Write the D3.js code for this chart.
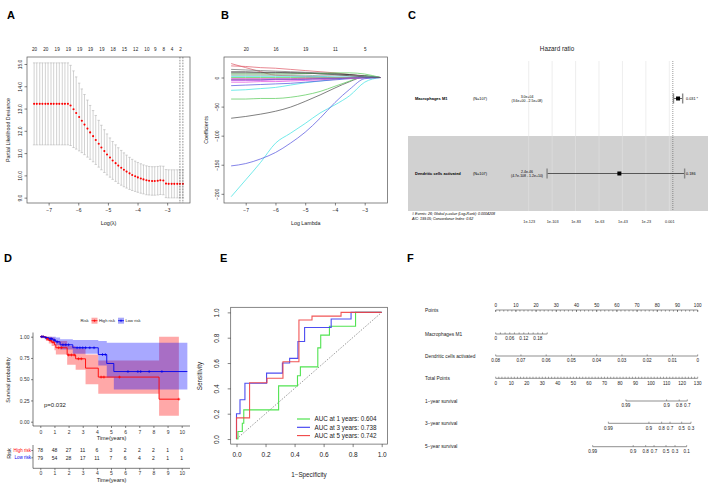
<!DOCTYPE html>
<html>
<head>
<meta charset="utf-8">
<script src="https://cdn.jsdelivr.net/npm/d3@7"></script>
<style>
body { margin: 0; background: #fff; }
svg { display: block; }
</style>
</head>
<body>
<script>
const W = 708, H = 488;
const FONT = '"Liberation Sans", Arial, Helvetica, sans-serif';

// ---------- A : cross-validated partial likelihood deviance
const cvLogLambda = [-7.49,-7.40,-7.30,-7.21,-7.11,-7.02,-6.92,-6.83,-6.73,-6.64,-6.54,-6.45,-6.35,-6.26,-6.16,-6.07,-5.97,-5.88,-5.79,-5.69,-5.60,-5.50,-5.41,-5.31,-5.22,-5.12,-5.03,-4.93,-4.84,-4.74,-4.65,-4.55,-4.46,-4.37,-4.27,-4.18,-4.08,-3.99,-3.89,-3.80,-3.70,-3.61,-3.51,-3.42,-3.32,-3.23,-3.13,-3.04,-2.95,-2.85,-2.76,-2.66,-2.57,-2.47];
const cvMean = [13.21,13.21,13.21,13.21,13.21,13.21,13.21,13.21,13.21,13.21,13.21,13.21,13.21,13.14,12.97,12.80,12.62,12.45,12.28,12.10,11.93,11.76,11.59,11.42,11.25,11.09,10.94,10.80,10.67,10.55,10.44,10.34,10.25,10.17,10.09,10.02,9.96,9.91,9.86,9.82,9.78,9.76,9.75,9.75,9.76,9.78,9.77,9.63,9.62,9.62,9.62,9.62,9.62,9.62];
const cvSd = [1.84,1.84,1.84,1.84,1.84,1.84,1.84,1.84,1.84,1.84,1.84,1.84,1.84,1.80,1.72,1.62,1.52,1.43,1.35,1.28,1.21,1.15,1.10,1.05,1.00,0.96,0.92,0.88,0.85,0.82,0.80,0.78,0.76,0.74,0.72,0.70,0.68,0.67,0.66,0.65,0.65,0.64,0.64,0.64,0.64,0.64,0.64,0.63,0.63,0.63,0.63,0.63,0.63,0.63];
const cvTopAt = [-7.49,-7.11,-6.73,-6.35,-5.97,-5.60,-5.22,-4.84,-4.46,-4.08,-3.70,-3.42,-3.13,-2.85,-2.57];
const cvTopDf = ["20","20","19","19","19","19","19","18","15","12","10","9","8","4","2"];
const cvLambdaLines = [-2.57, -2.47];
const cvYTicks = [9,10,11,12,13,14,15];
const lambdaTicks = [-7,-6,-5,-4,-3];

// ---------- B : coefficient paths
const coefKnots = [-7.49,-7.0,-6.5,-6.0,-5.5,-5.0,-4.5,-4.0,-3.5,-3.0,-2.47];
const coefPaths = [
  [-205,-176,-146,-113,-96,-79,-61,-47,-31,-8,0],
  [-152,-148,-140,-129,-113,-94,-70,-43,-20,-2,0],
  [-70,-67,-63,-58,-51,-41,-30,-18,-7,1,0],
  [-37,-37,-36,-36,-34,-30,-24,-15,-6,3,0],
  [-22,-21,-19,-17,-13,-9,-6,-3,-1,0,0],
  [-14,-13,-12,-11,-10,-8,-6,-4,-2,-1,0],
  [-8,-8,-7,-7,-6,-5,-4,-2,-1,0,0],
  [-5,-5,-5,-4,-4,-3,-2,-2,-1,0,0],
  [24,17,10,4,3,2,1,0,0,0,0],
  [20,19,17,16,14,12,10,8,5,2,0],
  [14,13,12,11,10,9,8,7,5,2,0],
  [8,8,8,8,8,7,7,6,5,3,0],
  [6,6,6,6,6,7,7,8,8,6,0],
  [4,4,4,4,4,4,3,3,3,2,0],
  [2,2,2,2,2,2,2,1,1,1,0],
  [0,0,0,0,0,0,0,0,0,0,0],
  [-2,-2,-2,-2,-2,-1,-1,-1,-1,0,0],
  [-3,-3,-3,-3,-3,-2,-2,-2,-1,0,0],
  [-4,-4,-4,-3,-3,-3,-2,-2,-1,0,0],
  [10,10,9,9,8,8,6,5,3,1,0]
];
const coefColors = ["#45e3e3","#5b5be0","#555555","#5fcc5f","#45e3e3","#5b5be0","#e050e0","#e050e0","#e0606e","#e0606e","#777777","#333333","#5fcc5f","#999999","#45e3e3","#5fcc5f","#e050e0","#e0606e","#5b5be0","#555555"];
const coefTopDf = ["20","16","19","11","5"];
const coefYTicks = [0,-50,-100,-150,-200];

// ---------- C : forest plot
const hrVars = ["Macrophages M1", "Dendritic cells activated"];
const hrN = ["(N=107)", "(N=107)"];
const hrEst = [3.0e4, 2.4e-46];
const hrLo = [3.6, 4.7e-108];
const hrHi = [2.5e8, 1.2e10];
const hrEstText = ["3.0e+04", "2.4e-46"];
const hrCiText = ["(3.6e+00 - 2.5e+08)", "(4.7e-108 - 1.2e+10)"];
const hrP = ["0.031 *", "0.186"];
const hrTicks = [1e-123,1e-103,1e-83,1e-63,1e-43,1e-23,1e-3];
const hrTickLabels = ["1e-123","1e-103","1e-83","1e-63","1e-43","1e-23","0.001"];
const hrNotes = ["# Events: 26; Global p-value (Log-Rank): 0.0004208", "AIC: 199.05; Concordance Index: 0.62"];

// ---------- D : Kaplan-Meier
const kmHighT = [0,0.4,0.6,0.8,1.0,1.1,1.9,2.5,3.2,4.1,8.4,9.8];
const kmHighS = [1,0.975,0.955,0.935,0.905,0.87,0.785,0.74,0.63,0.525,0.265,0.265];
const kmHighUp = [1,1,1,0.99,0.97,0.95,0.89,0.86,0.79,0.72,1,1];
const kmHighLo = [1,0.95,0.92,0.89,0.84,0.79,0.67,0.61,0.44,0.33,0.07,0.07];
const kmHighCens = [0.1,0.2,0.5,0.7,0.9,1.3,1.5,2.0,2.2,2.4,2.7,2.9,4.3,4.5,5.6,9.8];
const kmLowT = [0,0.3,0.6,0.9,1.1,1.4,2.3,4.1,4.7,5.2,10.4];
const kmLowS = [1,0.99,0.975,0.96,0.94,0.905,0.87,0.79,0.685,0.59,0.59];
const kmLowUp = [1,1,1,1,0.99,0.97,0.96,0.95,0.93,0.93,0.93];
const kmLowLo = [1,0.97,0.95,0.93,0.90,0.85,0.80,0.66,0.52,0.38,0.38];
const kmLowCens = [0.1,0.2,0.4,0.7,0.8,1.0,1.2,1.6,1.8,2.0,2.6,2.8,3.0,3.2,3.5,3.8,4.4,4.6,6.2,6.9,7.1,7.7,8.6];
const kmTimeTicks = [0,1,2,3,4,5,6,7,8,9,10];
const kmSurvTicks = [0,0.25,0.5,0.75,1];
const riskHigh = [78,48,27,11,6,3,2,2,2,1,0];
const riskLow = [79,54,28,17,11,7,6,4,2,1,1];

// ---------- E : time-dependent ROC
const roc1Fpr = [0,0.01,0.01,0.04,0.04,0.05,0.05,0.29,0.29,0.42,0.42,0.44,0.44,0.56,0.56,0.58,0.58,0.64,0.64,0.82,0.82,1];
const roc1Tpr = [0,0,0.06,0.06,0.125,0.125,0.23,0.23,0.42,0.42,0.5,0.5,0.57,0.57,0.72,0.72,0.82,0.82,0.89,0.89,1,1];
const roc3Fpr = [0,0,0.024,0.024,0.058,0.058,0.207,0.207,0.316,0.316,0.366,0.366,0.423,0.423,0.469,0.469,0.652,0.652,0.789,0.789,1];
const roc3Tpr = [0,0.2,0.2,0.31,0.31,0.44,0.44,0.52,0.52,0.60,0.60,0.637,0.637,0.77,0.77,0.88,0.88,0.948,0.948,1,1];
const roc5Fpr = [0,0,0.09,0.09,0.21,0.21,0.32,0.32,0.43,0.43,0.52,0.52,0.72,0.72,1];
const roc5Tpr = [0,0.167,0.167,0.444,0.444,0.48,0.48,0.61,0.61,0.94,0.94,0.97,0.97,1,1];
const rocLegend = ["AUC at 1 years: 0.604", "AUC at 3 years: 0.738", "AUC at 5 years: 0.742"];
const rocColors = ["#3ee03e", "#3a3af0", "#f04444"];
const rocTicks = [0,0.2,0.4,0.6,0.8,1.0];

// ---------- F : nomogram
const nomRows = ["Points","Macrophages M1","Dendritic cells activated","Total Points","1\u2212year survival","3\u2212year survival","5\u2212year survival"];
const nomPointsTicks = [0,10,20,30,40,50,60,70,80,90,100];
const nomM1Ticks = [0,0.06,0.12,0.18];
const nomM1Max = 0.22, nomM1MaxPts = 25.5;
const nomDcTicks = [0.08,0.07,0.06,0.05,0.04,0.03,0.02,0.01,0];
const nomTotalTicks = [0,10,20,30,40,50,60,70,80,90,100,110,120,130];
const surv1Labels = ["0.99","0.9","0.8","0.7"];
const surv1Pts = [83.8,110,118.1,123.3];
const surv3Labels = ["0.99","0.9","0.8","0.7","0.5","0.3"];
const surv3Pts = [72.5,98.6,106.8,112.2,119.7,125.7];
const surv5Labels = ["0.99","0.9","0.8","0.7","0.5","0.3","0.1"];
const surv5Pts = [62.4,88.5,96.5,101.9,109.6,115.4,122.9];

// ================= drawing
const svg = d3.select("body").append("svg")
  .attr("width", W).attr("height", H)
  .attr("font-family", FONT);
svg.append("rect").attr("width", W).attr("height", H).attr("fill", "#fff");

const minus = s => String(s).replace("-", "\u2212");

function styleAxis(g, fs, col) {
  g.attr("font-size", fs).attr("font-family", FONT);
  g.selectAll("line").attr("stroke", col || "#333").attr("stroke-width", 0.6);
  g.selectAll("path.domain").remove();
  g.selectAll("text").attr("fill", col || "#222");
}
function rotLeft(g, off) {
  g.selectAll(".tick text")
    .attr("x", 0).attr("dy", 0)
    .attr("text-anchor", "middle")
    .attr("transform", `translate(${-off},0) rotate(-90)`);
}
function letter(x, y, s) {
  svg.append("text").attr("x", x).attr("y", y).text(s)
    .attr("font-size", 11).attr("font-weight", "bold").attr("fill", "#000");
}

// ---------- Panel A
(function () {
  const g = svg.append("g");
  const x = d3.scaleLinear().domain([-7.73, -2.23]).range([27, 190]);
  const y = d3.scaleLinear().domain([8.76, 15.314]).range([203, 57]);

  const bars = g.append("g").attr("stroke", "#b4b4b4").attr("stroke-width", 0.6);
  cvLogLambda.forEach((l, i) => {
    const up = cvMean[i] + cvSd[i], lo = cvMean[i] - cvSd[i];
    bars.append("line").attr("x1", x(l)).attr("x2", x(l)).attr("y1", y(up)).attr("y2", y(lo));
    bars.append("line").attr("x1", x(l) - 1.2).attr("x2", x(l) + 1.2).attr("y1", y(up)).attr("y2", y(up));
    bars.append("line").attr("x1", x(l) - 1.2).attr("x2", x(l) + 1.2).attr("y1", y(lo)).attr("y2", y(lo));
  });
  g.append("g").selectAll("circle").data(cvLogLambda).join("circle")
    .attr("cx", d => x(d)).attr("cy", (d, i) => y(cvMean[i]))
    .attr("r", 1.05).attr("fill", "#f00");
  g.selectAll(".vl").data(cvLambdaLines).join("line")
    .attr("x1", d => x(d)).attr("x2", d => x(d)).attr("y1", 57).attr("y2", 203)
    .attr("stroke", "#444").attr("stroke-width", 0.6).attr("stroke-dasharray", "1.6,1.2");
  g.append("rect").attr("x", 27).attr("y", 57).attr("width", 163).attr("height", 146)
    .attr("fill", "none").attr("stroke", "#555").attr("stroke-width", 0.7);

  const ax = g.append("g").attr("transform", "translate(0,203)")
    .call(d3.axisBottom(x).tickValues(lambdaTicks).tickSize(2.5).tickPadding(3).tickFormat(minus));
  styleAxis(ax, 5);
  const ay = g.append("g").attr("transform", "translate(27,0)")
    .call(d3.axisLeft(y).tickValues(cvYTicks).tickSize(2.5));
  styleAxis(ay, 5); rotLeft(ay, 5);
  const at = g.append("g").attr("transform", "translate(0,57)")
    .call(d3.axisTop(x).tickValues(cvTopAt).tickSize(0).tickPadding(6).tickFormat((d, i) => cvTopDf[i]));
  styleAxis(at, 4.6);

  g.append("text").attr("x", 108.5).attr("y", 225).attr("text-anchor", "middle")
    .attr("font-size", 5.5).attr("fill", "#222").text("Log(\u03bb)");
  g.append("text").attr("transform", "translate(10,130) rotate(-90)").attr("text-anchor", "middle")
    .attr("font-size", 5.3).attr("fill", "#222").text("Partial Likelihood Deviance");
  letter(7, 18.5, "A");
})();

// ---------- Panel B
(function () {
  const g = svg.append("g");
  const x = d3.scaleLinear().domain([-7.73, -2.23]).range([224, 387.6]);
  const y = d3.scaleLinear().domain([-215.8, 35.3]).range([203, 57]);
  const line = d3.line().x((d, i) => x(coefKnots[i])).y(d => y(d)).curve(d3.curveMonotoneX);
  g.append("g").selectAll("path").data(coefPaths).join("path")
    .attr("d", line).attr("fill", "none")
    .attr("stroke", (d, i) => coefColors[i]).attr("stroke-width", 0.75);
  g.append("rect").attr("x", 224).attr("y", 57).attr("width", 163.6).attr("height", 146)
    .attr("fill", "none").attr("stroke", "#555").attr("stroke-width", 0.7);

  const ax = g.append("g").attr("transform", "translate(0,203)")
    .call(d3.axisBottom(x).tickValues(lambdaTicks).tickSize(2.5).tickPadding(3).tickFormat(minus));
  styleAxis(ax, 5);
  const ay = g.append("g").attr("transform", "translate(224,0)")
    .call(d3.axisLeft(y).tickValues(coefYTicks).tickSize(2.5).tickFormat(minus));
  styleAxis(ay, 5); rotLeft(ay, 5);
  const at = g.append("g").attr("transform", "translate(0,57)")
    .call(d3.axisTop(x).tickValues(lambdaTicks).tickSize(0).tickPadding(6).tickFormat((d, i) => coefTopDf[i]));
  styleAxis(at, 4.6);

  g.append("text").attr("x", 305.8).attr("y", 225).attr("text-anchor", "middle")
    .attr("font-size", 5.3).attr("fill", "#222").text("Log Lambda");
  g.append("text").attr("transform", "translate(208,130) rotate(-90)").attr("text-anchor", "middle")
    .attr("font-size", 5.3).attr("fill", "#222").text("Coefficients");
  letter(221, 18.5, "B");
})();

// ---------- Panel C
(function () {
  const g = svg.append("g");
  const x = d3.scaleLog().domain([1e-123, 1e-3]).range([528.7, 669.3]);
  const rowTop = [61, 136], rowH = 75;
  g.append("rect").attr("x", 408).attr("y", rowTop[1]).attr("width", 300).attr("height", rowH).attr("fill", "#d1d1d1");
  g.selectAll(".grid").data(hrTicks).join("line")
    .attr("x1", d => x(d)).attr("x2", d => x(d)).attr("y1", 61).attr("y2", 211)
    .attr("stroke", "#e2e2e2").attr("stroke-width", 0.6);
  g.append("line").attr("x1", x(1)).attr("x2", x(1)).attr("y1", 61).attr("y2", 211)
    .attr("stroke", "#555").attr("stroke-width", 0.6).attr("stroke-dasharray", "1,1");

  hrVars.forEach((v, i) => {
    const cy = rowTop[i] + rowH / 2;
    g.append("text").attr("x", 415).attr("y", cy + 1.3).attr("font-size", 4).attr("font-weight", "bold").text(v);
    g.append("text").attr("x", 480).attr("y", cy + 1.3).attr("font-size", 3.8).attr("text-anchor", "middle").text(hrN[i]);
    g.append("text").attr("x", 527).attr("y", cy - 0.6).attr("font-size", 3.5).attr("text-anchor", "middle").text(hrEstText[i]);
    g.append("text").attr("x", 527).attr("y", cy + 3).attr("font-size", 3.5).attr("text-anchor", "middle").text(hrCiText[i]);
    g.append("text").attr("x", 686).attr("y", cy + 1.3).attr("font-size", 3.8).text(hrP[i]);
    g.append("line").attr("x1", x(hrLo[i])).attr("x2", x(hrHi[i])).attr("y1", cy).attr("y2", cy)
      .attr("stroke", "#222").attr("stroke-width", 0.7);
    [hrLo[i], hrHi[i]].forEach(v2 => {
      g.append("rect").attr("x", x(v2) - 0.7).attr("y", cy - 5).attr("width", 1.4).attr("height", 10).attr("fill", "#888");
    });
    g.append("rect").attr("x", x(hrEst[i]) - 2).attr("y", cy - 2).attr("width", 4).attr("height", 4).attr("fill", "#000");
  });

  const ax = g.append("g").attr("transform", "translate(0,211)")
    .call(d3.axisBottom(x).tickValues(hrTicks).tickSize(0).tickPadding(9).tickFormat((d, i) => hrTickLabels[i]));
  styleAxis(ax, 3.8);
  g.append("text").attr("x", 557).attr("y", 50.5).attr("text-anchor", "middle").attr("font-size", 6.3).attr("fill", "#222").text("Hazard ratio");
  hrNotes.forEach((s, i) => {
    g.append("text").attr("x", 412).attr("y", 214.5 + i * 5.3).attr("font-size", 3.6).attr("font-style", "italic").text(s);
  });
  letter(408, 18.5, "C");
})();

// ---------- Panel D
(function () {
  const g = svg.append("g");
  const x = d3.scaleLinear().domain([0, 10]).range([40.3, 181.7]);
  const y = d3.scaleLinear().domain([0, 1]).range([421.7, 336.7]);
  const area = (T, Up, Lo) => d3.area().curve(d3.curveStepAfter)
    .x((d, i) => x(T[i])).y0((d, i) => y(Lo[i])).y1((d, i) => y(Up[i]))(T);
  const step = (T, S) => d3.line().curve(d3.curveStepAfter).x((d, i) => x(T[i])).y((d, i) => y(S[i]))(T);
  const survAt = (T, S, t) => { let s = 1; T.forEach((tt, i) => { if (tt <= t) s = S[i]; }); return s; };

  g.append("path").attr("d", area(kmHighT, kmHighUp, kmHighLo)).attr("fill", "#ff0000").attr("fill-opacity", 0.34);
  g.append("path").attr("d", area(kmLowT, kmLowUp, kmLowLo)).attr("fill", "#0000ff").attr("fill-opacity", 0.34);
  g.append("path").attr("d", step(kmHighT, kmHighS)).attr("fill", "none").attr("stroke", "#f00").attr("stroke-width", 0.9);
  g.append("path").attr("d", step(kmLowT, kmLowS)).attr("fill", "none").attr("stroke", "#0000ee").attr("stroke-width", 0.9);
  const cross = (list, T, S, col) => list.forEach(t => {
    const cx = x(t), cy = y(survAt(T, S, t));
    g.append("path").attr("d", `M${cx - 1.4},${cy}H${cx + 1.4}M${cx},${cy - 1.4}V${cy + 1.4}`)
      .attr("stroke", col).attr("stroke-width", 0.7);
  });
  cross(kmHighCens, kmHighT, kmHighS, "#f00");
  cross(kmLowCens, kmLowT, kmLowS, "#0000ee");

  // axes
  g.append("line").attr("x1", 33).attr("x2", 190).attr("y1", 426).attr("y2", 426).attr("stroke", "#222").attr("stroke-width", 0.6);
  g.append("line").attr("x1", 33).attr("x2", 33).attr("y1", 332.5).attr("y2", 426).attr("stroke", "#222").attr("stroke-width", 0.6);
  const ax = g.append("g").attr("transform", "translate(0,426)")
    .call(d3.axisBottom(x).tickValues(kmTimeTicks).tickSize(2).tickPadding(2));
  styleAxis(ax, 5, "#333");
  const ay = g.append("g").attr("transform", "translate(33,0)")
    .call(d3.axisLeft(y).tickValues(kmSurvTicks).tickSize(2).tickPadding(1.5).tickFormat(d3.format(".2f")));
  styleAxis(ay, 5, "#333");
  g.append("text").attr("x", 111.5).attr("y", 440).attr("text-anchor", "middle").attr("font-size", 5.6).attr("fill", "#222").text("Time(years)");
  g.append("text").attr("transform", "translate(10,380) rotate(-90)").attr("text-anchor", "middle").attr("font-size", 5.4).attr("fill", "#222").text("Survival probability");
  g.append("text").attr("x", 44).attr("y", 406.5).attr("font-size", 6).attr("fill", "#222").text("p=0.032");

  // legend
  g.append("text").attr("x", 80.5).attr("y", 322.3).attr("font-size", 4.2).attr("fill", "#222").text("Risk");
  [["High risk", "#ff0000", 91.5], ["Low risk", "#0000ee", 118]].forEach(([lab, col, lx]) => {
    g.append("rect").attr("x", lx).attr("y", 317.7).attr("width", 6).attr("height", 6).attr("fill", col).attr("fill-opacity", 0.34);
    g.append("line").attr("x1", lx).attr("x2", lx + 6).attr("y1", 320.7).attr("y2", 320.7).attr("stroke", col).attr("stroke-width", 0.8);
    g.append("path").attr("d", `M${lx + 1.8},320.7H${lx + 4.2}M${lx + 3},319.5V321.9`).attr("stroke", col).attr("stroke-width", 0.6);
    g.append("text").attr("x", lx + 7.5).attr("y", 322.2).attr("font-size", 4.1).attr("fill", "#222").text(lab);
  });

  // risk table
  const rows = [[riskHigh, "High risk", "#ff0000", 450.5], [riskLow, "Low risk", "#0000ee", 457.8]];
  rows.forEach(([vals, lab, col, ry]) => {
    g.selectAll(null).data(vals).join("text")
      .attr("x", (d, i) => x(kmTimeTicks[i])).attr("y", ry + 1.8).attr("text-anchor", "middle")
      .attr("font-size", 5).attr("fill", "#222").text(d => d);
    g.append("text").attr("x", 31).attr("y", ry + 1.6).attr("text-anchor", "end").attr("font-size", 4.5).attr("fill", col).text(lab);
    g.append("line").attr("x1", 31.3).attr("x2", 33).attr("y1", ry).attr("y2", ry).attr("stroke", "#333").attr("stroke-width", 0.6);
  });
  g.append("line").attr("x1", 33).attr("x2", 33).attr("y1", 445).attr("y2", 468.3).attr("stroke", "#222").attr("stroke-width", 0.6);
  g.append("line").attr("x1", 33).attr("x2", 190).attr("y1", 468.3).attr("y2", 468.3).attr("stroke", "#222").attr("stroke-width", 0.6);
  const ar = g.append("g").attr("transform", "translate(0,468.3)")
    .call(d3.axisBottom(x).tickValues(kmTimeTicks).tickSize(2).tickPadding(1.5));
  styleAxis(ar, 5, "#333");
  g.append("text").attr("x", 111.5).attr("y", 482).attr("text-anchor", "middle").attr("font-size", 5.6).attr("fill", "#222").text("Time(years)");
  g.append("text").attr("transform", "translate(10.5,453.5) rotate(-90)").attr("text-anchor", "middle").attr("font-size", 5.4).attr("fill", "#222").text("Risk");
  letter(4, 262, "D");
})();

// ---------- Panel E
(function () {
  const g = svg.append("g");
  const x = d3.scaleLinear().domain([-0.04, 1.04]).range([230.7, 387.5]);
  const y = d3.scaleLinear().domain([-0.04, 1.04]).range([444.1, 307.3]);
  g.append("line").attr("x1", x(0)).attr("y1", y(0)).attr("x2", x(1)).attr("y2", y(1))
    .attr("stroke", "#555").attr("stroke-width", 0.6).attr("stroke-dasharray", "1.5,1.5");
  const line = (F, T) => d3.line().x((d, i) => x(F[i])).y((d, i) => y(T[i]))(F);
  [[roc1Fpr, roc1Tpr], [roc3Fpr, roc3Tpr], [roc5Fpr, roc5Tpr]].forEach(([F, T], k) => {
    g.append("path").attr("d", line(F, T)).attr("fill", "none")
      .attr("stroke", rocColors[k]).attr("stroke-width", 1.1).attr("stroke-opacity", 0.9);
  });
  g.append("rect").attr("x", 230.7).attr("y", 307.3).attr("width", 156.8).attr("height", 136.8)
    .attr("fill", "none").attr("stroke", "#555").attr("stroke-width", 0.7);
  const ax = g.append("g").attr("transform", "translate(0,444.1)")
    .call(d3.axisBottom(x).tickValues(rocTicks).tickSize(3).tickPadding(5).tickFormat(d3.format(".1f")));
  styleAxis(ax, 6.5);
  const ay = g.append("g").attr("transform", "translate(230.7,0)")
    .call(d3.axisLeft(y).tickValues(rocTicks).tickSize(3).tickFormat(d3.format(".1f")));
  styleAxis(ay, 6.5); rotLeft(ay, 11.5);
  rocLegend.forEach((s, i) => {
    const ly = 419 + i * 8.3;
    g.append("line").attr("x1", 297).attr("x2", 310).attr("y1", ly).attr("y2", ly)
      .attr("stroke", rocColors[i]).attr("stroke-width", 1.1);
    g.append("text").attr("x", 314.5).attr("y", ly + 2.3).attr("font-size", 6.3).attr("fill", "#222").text(s);
  });
  g.append("text").attr("x", 309).attr("y", 476.5).attr("text-anchor", "middle").attr("font-size", 6.3).attr("fill", "#222").text("1\u2212Specificity");
  g.append("text").attr("transform", "translate(201.5,376) rotate(-90)").attr("text-anchor", "middle").attr("font-size", 6.3).attr("fill", "#222").text("Sensitivity");
  letter(220, 262, "E");
})();

// ---------- Panel F
(function () {
  const g = svg.append("g");
  const xP = d3.scaleLinear().domain([0, 100]).range([495.7, 697.7]);
  const xT = d3.scaleLinear().domain([0, 130]).range([495.7, 697.7]);
  const xM = d3.scaleLinear().domain([0, nomM1Max]).range([xP(0), xP(nomM1MaxPts)]);
  const xD = d3.scaleLinear().domain([0.08, 0]).range([xP(0), xP(100)]);
  const rowY = [310, 334, 356, 378.3, 401, 423.3, 446.7];
  nomRows.forEach((s, i) => {
    g.append("text").attr("x", 425).attr("y", rowY[i] + 1.5).attr("font-size", 4.8).attr("fill", "#222").text(s);
  });
  const hline = (x1, x2, yy) => g.append("line").attr("x1", x1).attr("x2", x2).attr("y1", yy).attr("y2", yy)
    .attr("stroke", "#444").attr("stroke-width", 0.6);
  const ticks = (pos, yy, len) => pos.forEach(px => g.append("line").attr("x1", px).attr("x2", px)
    .attr("y1", yy).attr("y2", yy - len).attr("stroke", "#444").attr("stroke-width", 0.5));
  const labels = (pos, labs, yy) => pos.forEach((px, i) => g.append("text").attr("x", px).attr("y", yy)
    .attr("text-anchor", "middle").attr("font-size", 4.6).attr("fill", "#222").text(labs[i]));

  // Points
  hline(xP(0), xP(100), rowY[0]);
  ticks(xP.ticks(50).map(xP), rowY[0] + 1.6, 1.6);
  ticks(nomPointsTicks.map(xP), rowY[0] + 2, 2);
  labels(nomPointsTicks.map(xP), nomPointsTicks, rowY[0] - 3.5);
  // Macrophages M1
  hline(xM(0), xM(nomM1Max), rowY[1]);
  ticks(xM.ticks(11).map(xM), rowY[1], 1.6);
  labels(nomM1Ticks.map(xM), nomM1Ticks.map(d => d === 0 ? "0" : d.toFixed(2)), rowY[1] + 6.3);
  // Dendritic cells activated
  hline(xD(0.08), xD(0), rowY[2]);
  ticks(nomDcTicks.map(xD), rowY[2], 1.6);
  labels(nomDcTicks.map(xD), nomDcTicks.map(d => d === 0 ? "0" : d.toFixed(2)), rowY[2] + 6.3);
  // Total points
  hline(xT(0), xT(130), rowY[3]);
  ticks(xT.ticks(65).map(xT), rowY[3], 1.6);
  labels(nomTotalTicks.map(xT), nomTotalTicks, rowY[3] + 6.3);
  // survival
  [[surv1Pts, surv1Labels], [surv3Pts, surv3Labels], [surv5Pts, surv5Labels]].forEach(([pts, labs], k) => {
    const yy = rowY[4 + k];
    hline(xT(pts[0]), xT(pts[pts.length - 1]), yy);
    ticks(pts.map(xT), yy, 1.6);
    labels(pts.map(xT), labs, yy + 6.3);
  });
  letter(407, 262, "F");
})();
</script>
</body>
</html>
